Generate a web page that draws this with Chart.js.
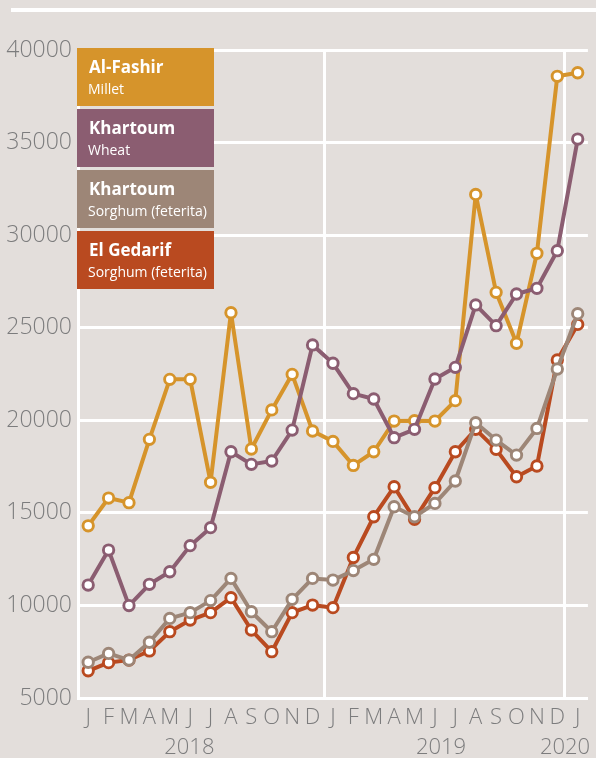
<!DOCTYPE html>
<html>
<head>
<meta charset="utf-8">
<script src="https://cdn.jsdelivr.net/npm/chart.js@4/dist/chart.umd.min.js"></script>
<style>
  html, body { margin: 0; padding: 0; background: #e3dedb; }
  #wrap { position: relative; width: 596px; height: 758px; overflow: hidden; background: #e3dedb; }
  #topRule { position: absolute; left: 11px; right: 0; top: 8px; height: 4px; background: #ffffff; }
  canvas { position: absolute; left: 0; top: 0; }
</style>
</head>
<body>
<div id="wrap">
  <div id="topRule"></div>
  <canvas id="c" width="596" height="758"></canvas>
</div>
<script>
// ---- Data ----
const monthLabels = ['J','F','M','A','M','J','J','A','S','O','N','D',
                     'J','F','M','A','M','J','J','A','S','O','N','D','J'];
const yearLabels = ['2018', '2019', '2020'];
const yearLabelAt = [4.96, 17.3, 23.38];      // month index where each year label is centred
const yearBoundaryAt = [11.6, 23.35];          // month index of the year separator lines
const yTicks = [5000, 10000, 15000, 20000, 25000, 30000, 35000, 40000];

const cityNames = ['Al-Fashir', 'Khartoum', 'Khartoum', 'El Gedarif'];
const commodityNames = ['Millet', 'Wheat', 'Sorghum (feterita)', 'Sorghum (feterita)'];

const alFashirMillet = [14300, 15800, 15550, 18970, 22210, 22210, 16650, 25810, 18450, 20560, 22480, 19420,
                        18860, 17560, 18300, 19960, 19980, 19960, 21060, 32200, 26910, 24160, 29020, 38580, 38770];
const khartoumWheat = [11100, 12990, 9990, 11140, 11820, 13230, 14200, 18300, 17620, 17800, 19470, 24070,
                       23080, 21440, 21150, 19060, 19510, 22230, 22860, 26230, 25110, 26820, 27130, 29160, 35190];
const khartoumSorghum = [6930, 7410, 7050, 8010, 9300, 9610, 10260, 11460, 9660, 8580, 10330, 11460,
                         11370, 11880, 12490, 15330, 14790, 15510, 16720, 19870, 18930, 18120, 19560, 22770, 25760];
const elGedarifSorghum = [6470, 6910, 7050, 7540, 8580, 9210, 9610, 10420, 8670, 7500, 9610, 10020,
                          9880, 12590, 14790, 16410, 14650, 16360, 18300, 19510, 18430, 16950, 17530, 23260, 25180];

const seriesValues = [alFashirMillet, khartoumWheat, khartoumSorghum, elGedarifSorghum];
const seriesColors = ['#d6942b', '#8b5d71', '#9d8677', '#b94a20'];
const seriesOrder = [1, 0, 2, 3];

const FONT = "'Open Sans', 'Noto Sans', sans-serif";
const TICK_COLOR = '#7c7c7d';

const datasets = seriesValues.map((vals, s) => ({
  label: cityNames[s] + ' ' + commodityNames[s],
  data: vals.map((v, i) => ({ x: i, y: v })),
  borderColor: seriesColors[s],
  backgroundColor: seriesColors[s],
  borderWidth: 4,
  borderJoinStyle: 'round',
  borderCapStyle: 'round',
  pointRadius: 5.2,
  pointBorderWidth: 2.9,
  pointBackgroundColor: '#ffffff',
  pointBorderColor: seriesColors[s],
  tension: 0,
  clip: false,
  order: seriesOrder[s]
}));

const legendBoxes = {
  id: 'legendBoxes',
  afterDraw(chart) {
    const ctx = chart.ctx;
    const left = 77, width = 137, height = 58, step = 61, top0 = 48;
    ctx.save();
    seriesColors.forEach((col, s) => {
      const top = top0 + s * step;
      ctx.fillStyle = col;
      ctx.fillRect(left, top, width, height);
      ctx.fillStyle = '#ffffff';
      ctx.textAlign = 'left';
      ctx.textBaseline = 'alphabetic';
      ctx.font = "bold 17px " + FONT;
      ctx.fillText(cityNames[s], left + 12, top + 25);
      ctx.font = "14px " + FONT;
      ctx.fillText(commodityNames[s], left + 11, top + 46);
    });
    ctx.restore();
  }
};

new Chart(document.getElementById('c'), {
  type: 'line',
  data: { datasets },
  plugins: [legendBoxes],
  options: {
    responsive: false,
    animation: false,
    events: [],
    layout: { padding: { top: 50, right: 1, left: 0, bottom: 0 } },
    plugins: { legend: { display: false }, tooltip: { enabled: false } },
    scales: {
      y: {
        type: 'linear',
        min: 5000, max: 40000,
        afterBuildTicks: (ax) => { ax.ticks = yTicks.map(v => ({ value: v })); },
        afterFit: (ax) => { ax.width = 78; },
        grid: { color: '#ffffff', lineWidth: 3, drawTicks: false },
        border: { display: true, color: '#ffffff', width: 3 },
        ticks: { padding: 6, color: TICK_COLOR, font: { family: FONT, size: 23, weight: 300 },
                 callback: (v) => String(v) }
      },
      x: {
        type: 'linear',
        position: 'bottom',
        weight: 1,
        min: -0.5, max: 24.5,
        afterBuildTicks: (ax) => { ax.ticks = monthLabels.map((m, i) => ({ value: i })); },
        afterFit: (ax) => { ax.height = 32; },
        grid: { display: false, drawTicks: false },
        border: { display: true, color: '#ffffff', width: 3 },
        ticks: { padding: 7, color: TICK_COLOR, autoSkip: false, maxRotation: 0,
                 font: { family: FONT, size: 22, weight: 300 },
                 callback: (v) => monthLabels[v] }
      },
      xYears: {
        type: 'linear',
        position: 'bottom',
        weight: 2,
        min: -0.5, max: 24.5,
        afterBuildTicks: (ax) => { ax.ticks = yearLabelAt.map(v => ({ value: v })); },
        afterFit: (ax) => { ax.height = 28; },
        grid: { display: false, drawTicks: false },
        border: { display: false },
        ticks: { padding: 5, color: TICK_COLOR, autoSkip: false, maxRotation: 0,
                 font: { family: FONT, size: 22, weight: 300 },
                 callback: (v) => yearLabels[yearLabelAt.indexOf(v)] }
      },
      xBounds: {
        type: 'linear',
        position: 'bottom',
        weight: 0,
        min: -0.5, max: 24.5,
        afterBuildTicks: (ax) => { ax.ticks = yearBoundaryAt.map(v => ({ value: v })); },
        afterFit: (ax) => { ax.height = 0; },
        grid: { color: '#ffffff', lineWidth: 3, drawTicks: false },
        border: { display: false },
        ticks: { display: false }
      }
    }
  }
});
</script>
</body>
</html>
